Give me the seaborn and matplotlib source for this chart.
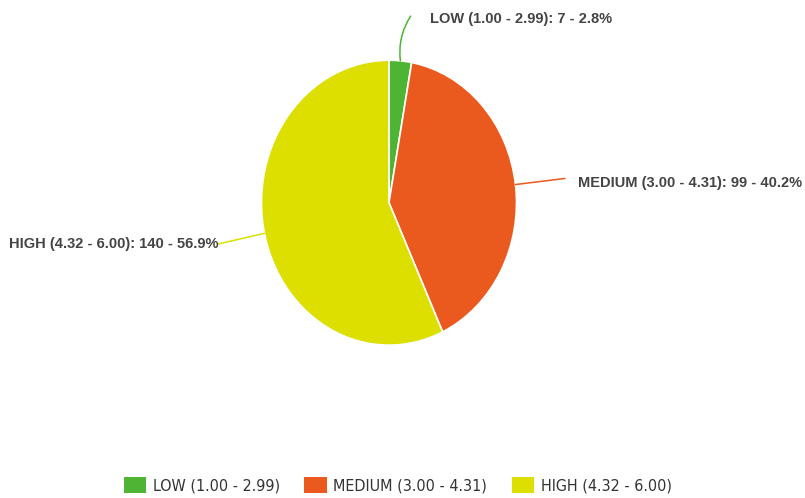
import numpy as np
import matplotlib
matplotlib.use("Agg")
import matplotlib.pyplot as plt
from matplotlib.patches import Patch
import seaborn as sns

# ── Data ───────────────────────────────────────────────────────────────────
categories = ["LOW (1.00 - 2.99)", "MEDIUM (3.00 - 4.31)", "HIGH (4.32 - 6.00)"]
counts     = [7, 99, 140]
percents   = [2.8, 40.2, 56.9]
colors     = ["#4db533", "#ea591d", "#dcdf00"]

# label text / leader end positions (data units of the pie axes)
label_text_xy = [(0.32, 1.29), (1.48, 0.14), (-1.34, -0.29)]
leader_end_xy = [(0.17, 1.31), (1.38, 0.17), (-1.34, -0.29)]
label_ha      = ["left", "left", "right"]

sns.set_theme(style="white")
plt.rcParams["font.family"] = ["Liberation Sans", "DejaVu Sans"]

fig = plt.figure(figsize=(8.05, 4.98), dpi=100)
ax = fig.add_axes([0.3248, 0.307, 0.3168, 0.572])

wedges, _ = ax.pie(counts, colors=colors, startangle=90, counterclock=False,
                   wedgeprops=dict(edgecolor="white", linewidth=1.2))
ax.set_aspect("auto")
ax.set_xlim(-1, 1); ax.set_ylim(-1, 1)

for w, cat, n, p, txy, lxy, ha, c in zip(wedges, categories, counts, percents,
                                         label_text_xy, leader_end_xy, label_ha, colors):
    ang = np.deg2rad((w.theta1 + w.theta2) / 2)
    anchor = (np.cos(ang), np.sin(ang))
    rad = 0.18 if txy[1] > 1 else 0.0
    ax.annotate("", xy=anchor, xytext=lxy, annotation_clip=False,
                arrowprops=dict(arrowstyle="-", color=c, lw=1.1,
                                connectionstyle=f"arc3,rad={rad}",
                                shrinkA=0, shrinkB=0))
    ax.text(txy[0], txy[1], f"{cat}: {n} - {p}%", ha=ha, va="center",
            fontsize=10.5, fontweight="bold", color="#444444", clip_on=False)

handles = [Patch(facecolor=c, edgecolor="none") for c in colors]
fig.legend(handles, categories, loc="center", bbox_to_anchor=(0.494, 0.026),
           ncol=3, frameon=False, handlelength=1.4, handleheight=1.25,
           handletextpad=0.4, columnspacing=1.55,
           prop=dict(family="DejaVu Sans", stretch="condensed", size=11.5),
           labelcolor="#333333")

fig.savefig("out.png", dpi=100)
